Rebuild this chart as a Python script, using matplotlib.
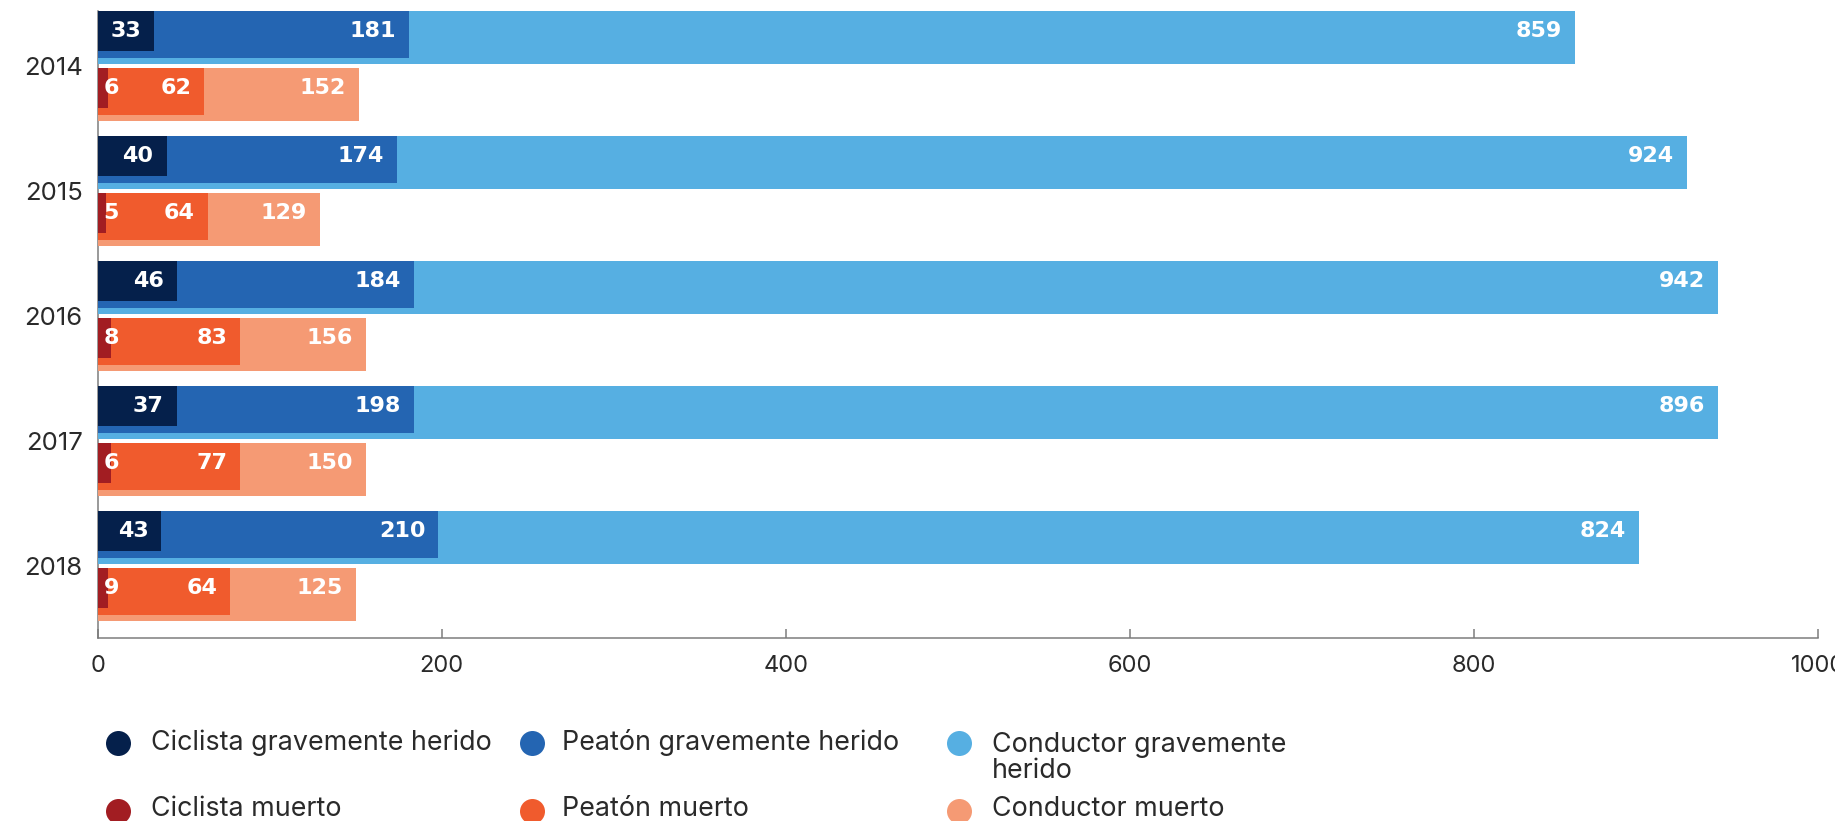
import matplotlib
matplotlib.use("Agg")
import matplotlib.pyplot as plt

# ---------------- data ----------------
years = ["2014", "2015", "2016", "2017", "2018"]
series_names = [
    "Ciclista gravemente herido",
    "Peatón gravemente herido",
    "Conductor gravemente\nherido",
    "Ciclista muerto",
    "Peatón muerto",
    "Conductor muerto",
]
# values printed on the bars
lbl_ciclista_herido = [33, 40, 46, 37, 43]
lbl_peaton_herido = [181, 174, 184, 198, 210]
lbl_conductor_herido = [859, 924, 942, 896, 824]
lbl_ciclista_muerto = [6, 5, 8, 6, 9]
lbl_peaton_muerto = [62, 64, 83, 77, 64]
lbl_conductor_muerto = [152, 129, 156, 150, 125]
# bar lengths as drawn in the original (2017/2018 bars repeat the previous year)
bar_ciclista_herido = [33, 40, 46, 46, 37]
bar_peaton_herido = [181, 174, 184, 184, 198]
bar_conductor_herido = [859, 924, 942, 942, 896]
bar_ciclista_muerto = [6, 5, 8, 8, 6]
bar_peaton_muerto = [62, 64, 83, 83, 77]
bar_conductor_muerto = [152, 129, 156, 156, 150]

colors = ["#05204b", "#2465b2", "#56afe2", "#a21d22", "#f05b2d", "#f59a74"]

# ---------------- figure ----------------
W, H = 1835, 821
fig = plt.figure(figsize=(W / 100, H / 100), dpi=100)
ax = fig.add_axes([97.7 / W, 1 - 637.7 / H, (1817.7 - 97.7) / W, (637.7 - 11) / H])

REG = "Inter"
BOLD = "DejaVu Sans"
PX = 72 / 100  # points per pixel

h_big, h_mid, h_small = 0.424, 0.376, 0.32
blue_top = -0.44
orange_top = 0.016

groups = [
    (blue_top, [bar_conductor_herido, bar_peaton_herido, bar_ciclista_herido],
     [lbl_conductor_herido, lbl_peaton_herido, lbl_ciclista_herido], [colors[2], colors[1], colors[0]]),
    (orange_top, [bar_conductor_muerto, bar_peaton_muerto, bar_ciclista_muerto],
     [lbl_conductor_muerto, lbl_peaton_muerto, lbl_ciclista_muerto], [colors[5], colors[4], colors[3]]),
]
heights = [h_big, h_mid, h_small]

for top, bars, labels, cols in groups:
    for vals, labs, col, hh in zip(bars, labels, cols, heights):
        ys = [i + top for i in range(len(years))]
        ax.barh(ys, vals, height=hh, align="edge", color=col, zorder=2)
        for i, (v, lab) in enumerate(zip(vals, labs)):
            yc = i + top + h_small / 2
            if v < 20:
                ax.annotate(str(lab), xy=(0, yc), xytext=(6 * PX, 0), textcoords="offset points",
                            ha="left", va="center", color="white", fontsize=16,
                            fontweight="bold", family=BOLD, zorder=5)
            else:
                ax.annotate(str(lab), xy=(v, yc), xytext=(-13 * PX, 0), textcoords="offset points",
                            ha="right", va="center", color="white", fontsize=16,
                            fontweight="bold", family=BOLD, zorder=5)

ax.set_xlim(0, 1000)
ax.set_ylim(-0.44 + (637.7 - 11) / 125, -0.44)
ax.set_yticks(range(len(years)))
ax.set_yticklabels(years)
ax.set_xticks([0, 200, 400, 600, 800, 1000])
ax.set_xticklabels(["0", "200", "400", "600", "800", "1000"])

for s in ["top", "right"]:
    ax.spines[s].set_visible(False)
for s in ["left", "bottom"]:
    ax.spines[s].set_color("#7a7a7a")
    ax.spines[s].set_linewidth(1.5 * PX)
    ax.spines[s].set_zorder(1)

ax.tick_params(axis="y", length=0, pad=15 * PX, labelsize=18.5, labelcolor="#2a2a2a")
ax.tick_params(axis="x", direction="in", length=9 * PX, width=1.5 * PX, color="#7a7a7a",
               pad=17 * PX, labelsize=17, labelcolor="#2a2a2a")
for t in ax.get_xticklabels() + ax.get_yticklabels():
    t.set_family(REG)

# ---------------- legend ----------------
lax = fig.add_axes([0, 0, 1, 1])
lax.set_xlim(0, W)
lax.set_ylim(H, 0)
lax.axis("off")
col_marker_x = [117.5, 531.6, 959]
col_text_x = [150.7, 562, 991.7]
row_marker_y = [743, 811]
row_base_y = [750.5, 816.5]
line_step = 28
for k, (name, col) in enumerate(zip(series_names, colors)):
    c, r = k % 3, k // 3
    nlines = name.count("\n")
    lax.plot([col_marker_x[c]], [row_marker_y[r]], "o", ms=18, color=col, mec="none")
    lax.text(col_text_x[c], row_base_y[r] + nlines * line_step, name, ha="left", va="baseline",
             fontsize=19.3, family=REG, color="#2a2a2a", linespacing=1.03)

fig.savefig("out.png", dpi=100)
